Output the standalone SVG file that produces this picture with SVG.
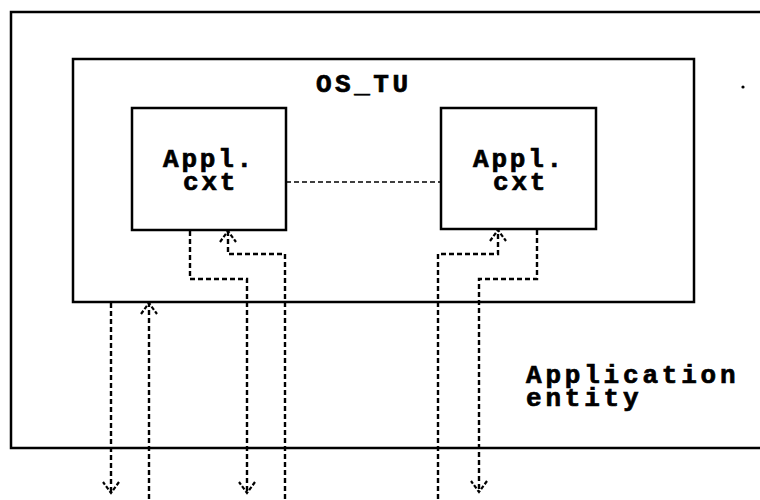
<svg xmlns="http://www.w3.org/2000/svg" width="760" height="500" viewBox="0 0 760 500">
<style>
.box{fill:none;stroke:#000;stroke-width:2.5}
.edge{fill:none;stroke:#000;stroke-width:2.4;stroke-dasharray:5 3}
.thin{fill:none;stroke:#000;stroke-width:1.6;stroke-dasharray:5 3}
.t{font-family:"Liberation Mono","Courier New",monospace;font-weight:bold;fill:#000;stroke:#000;stroke-width:0.7}
</style>
<defs>
<marker id="ah" markerUnits="userSpaceOnUse" markerWidth="24" markerHeight="24" viewBox="-12 -12 24 24" refX="0" refY="0" orient="auto" overflow="visible">
<path d="M -11 -8 L 0 0 L -11 8" fill="none" stroke="#000" stroke-width="2.2" stroke-dasharray="4 2"/>
</marker>
</defs>
<rect width="760" height="500" fill="#fff"/>
<g id="application-entity">
<path class="box" d="M 762 12 H 11 V 448 H 762" stroke-width="2"/>
<text class="t" x="526" y="383" font-size="26" letter-spacing="3.8">Application</text>
<text class="t" x="526" y="406" font-size="26" letter-spacing="3.8">entity</text>
</g>
<g id="os-tu">
<rect class="box" x="73" y="59" width="621" height="243"/>
<text class="t" x="316" y="92" font-size="26" letter-spacing="3.5">OS_TU</text>
</g>
<g id="appl-cxt-1">
<rect class="box" x="132" y="108" width="154" height="122"/>
<text class="t" x="163" y="167" font-size="26" letter-spacing="2.8">Appl.</text>
<text class="t" x="183" y="190" font-size="26" letter-spacing="2.8">cxt</text>
</g>
<g id="appl-cxt-2">
<rect class="box" x="441" y="108" width="155" height="121"/>
<text class="t" x="473" y="167" font-size="26" letter-spacing="2.8">Appl.</text>
<text class="t" x="493" y="190" font-size="26" letter-spacing="2.8">cxt</text>
</g>
<g id="connectors">
<path class="thin" d="M 286 182 H 441"/>
<path class="edge" d="M 111 303 V 493" marker-end="url(#ah)"/>
<path class="edge" d="M 149 499 V 303" marker-end="url(#ah)"/>
<path class="edge" d="M 190 231 V 279 H 247 V 493" marker-end="url(#ah)"/>
<path class="edge" d="M 285 499 V 254 H 228 V 231" marker-end="url(#ah)"/>
<path class="edge" d="M 438 499 V 254 H 498 V 230" marker-end="url(#ah)"/>
<path class="edge" d="M 537 230 V 279 H 479 V 492" marker-end="url(#ah)"/>
</g>
<circle cx="743" cy="87" r="1.6" fill="#000"/>
</svg>
